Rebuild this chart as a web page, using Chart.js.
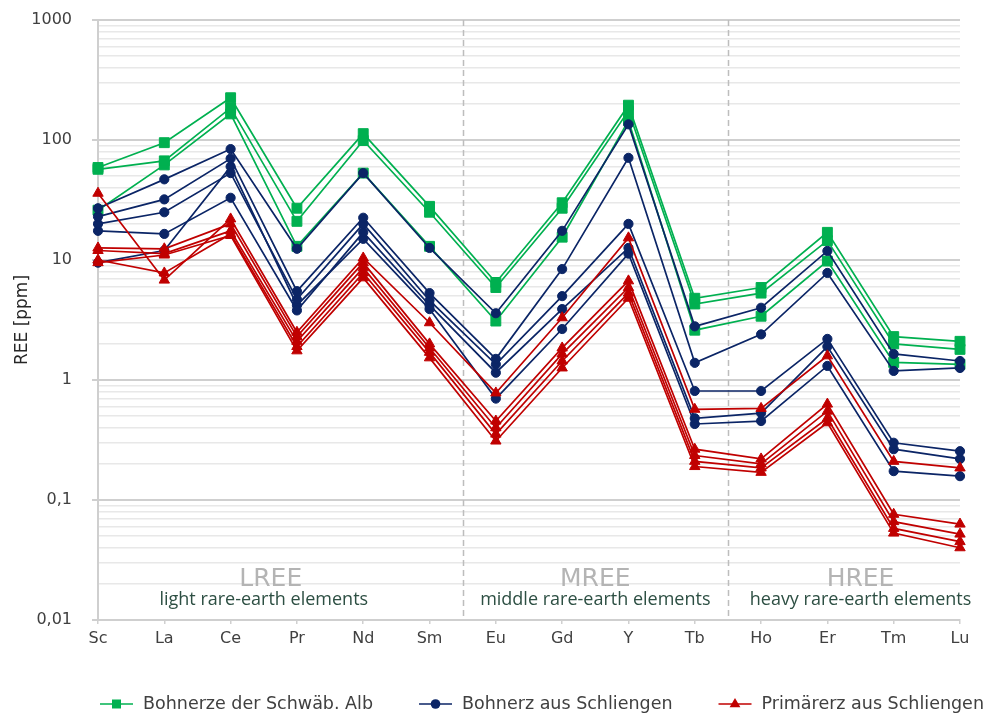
<!DOCTYPE html>
<html lang="de">
<head>
<meta charset="utf-8">
<title>Seltene Erden – REE-Gehalte</title>
<script src="https://cdn.jsdelivr.net/npm/chart.js@4.4.1/dist/chart.umd.min.js"></script>
<style>
  html, body { margin: 0; padding: 0; background: #ffffff; }
  canvas { display: block; }
</style>
</head>
<body>
<canvas id="ree" width="987" height="716"></canvas>
<script>
// Elements on the x axis
const elements = ['Sc', 'La', 'Ce', 'Pr', 'Nd', 'Sm', 'Eu', 'Gd', 'Y', 'Tb', 'Ho', 'Er', 'Tm', 'Lu'];

// Bohnerze der Schwäbischen Alb (ppm)
const alb1 = [59, 95, 225, 27, 113, 28, 6.5, 30, 195, 4.8, 5.9, 17, 2.3, 2.1];
const alb2 = [57, 67, 185, 21, 99, 25, 5.9, 27, 175, 4.3, 5.3, 14.5, 2.0, 1.8];
const alb3 = [26, 62, 165, 13, 53, 13, 3.1, 15.5, 145, 2.6, 3.4, 9.8, 1.4, 1.35];

// Bohnerz aus Schliengen (ppm)
const schl1 = [27, 47, 84, 12.4, 53, 12.6, 3.6, 17.5, 135, 2.8, 4.0, 11.9, 1.65, 1.44];
const schl2 = [23, 32, 70, 5.5, 22.5, 5.3, 1.5, 8.4, 71, 1.39, 2.4, 7.8, 1.19, 1.26];
const schl3 = [20, 25, 53, 4.7, 20, 4.6, 1.35, 5.0, 20, 0.81, 0.81, 2.2, 0.30, 0.255];
const schl4 = [17.5, 16.5, 33, 3.8, 17, 4.2, 1.15, 3.9, 12.6, 0.48, 0.53, 1.9, 0.265, 0.22];
const schl5 = [9.5, 12, 60, 4.2, 15, 3.9, 0.7, 2.66, 11.3, 0.43, 0.455, 1.31, 0.174, 0.158];

// Primärerz aus Schliengen (ppm)
const prim1 = [36, 6.8, 22, 2.5, 10.4, 3.0, 0.78, 3.3, 15.3, 0.57, 0.58, 1.59, 0.21, 0.185];
const prim2 = [12.6, 12.4, 20, 2.3, 9.5, 2.0, 0.455, 1.85, 6.7, 0.265, 0.22, 0.63, 0.076, 0.063];
const prim3 = [12, 11.3, 17.5, 2.1, 8.6, 1.85, 0.40, 1.65, 5.9, 0.235, 0.20, 0.55, 0.066, 0.052];
const prim4 = [10, 7.8, 16.5, 1.9, 7.8, 1.7, 0.354, 1.44, 5.3, 0.21, 0.185, 0.48, 0.058, 0.045];
const prim5 = [9.5, 11, 16, 1.75, 7.1, 1.53, 0.31, 1.26, 4.8, 0.19, 0.17, 0.44, 0.053, 0.040];

// Sample groups
const groupNames = ['Bohnerze der Schwäb. Alb', 'Bohnerz aus Schliengen', 'Primärerz aus Schliengen'];
const groupSeries = [[alb1, alb2, alb3], [schl1, schl2, schl3, schl4, schl5], [prim1, prim2, prim3, prim4, prim5]];
const groupColors = ['#00b050', '#0b2566', '#c00000'];
const groupMarkers = ['rect', 'circle', 'triangle'];
const groupRadius = [7, 4.6, 6];

// Logarithmic axis: decades and their labels
const decades = [0.01, 0.1, 1, 10, 100, 1000];
const yTickLabels = ['0,01', '0,1', '1', '10', '100', '1000'];

// Element groups shown along the bottom of the plot
const regionNames = ['LREE', 'MREE', 'HREE'];
const regionTexts = ['light rare-earth elements', 'middle rare-earth elements', 'heavy rare-earth elements'];
const regionFirst = ['Sc', 'Eu', 'Ho'];
const regionLast = ['Sm', 'Tb', 'Lu'];

const FONT = '"DejaVu Sans", "Liberation Sans", Arial, sans-serif';

function decadeIndex(v) {
  const l = Math.log10(v);
  return Math.abs(l - Math.round(l)) < 1e-6 ? decades.findIndex(d => Math.abs(Math.log10(d) - l) < 1e-6) : -1;
}

const datasets = [];
groupSeries.forEach((list, g) => {
  list.forEach(values => {
    datasets.push({
      label: groupNames[g],
      data: values,
      borderColor: groupColors[g],
      backgroundColor: groupColors[g],
      pointBackgroundColor: groupColors[g],
      pointBorderColor: groupColors[g],
      pointStyle: groupMarkers[g],
      pointRadius: groupRadius[g],
      pointBorderWidth: 1,
      borderWidth: 1.7,
      tension: 0,
      order: groupSeries.length - g
    });
  });
});

// Dashed dividers and group captions inside the plot
const regionPlugin = {
  id: 'reeRegions',
  beforeDatasetsDraw(chart) {
    const { ctx, chartArea: a, scales: { x } } = chart;
    ctx.save();
    ctx.strokeStyle = '#bdbdbd';
    ctx.lineWidth = 1.5;
    ctx.setLineDash([6, 4]);
    for (let r = 1; r < regionFirst.length; r++) {
      const i = elements.indexOf(regionFirst[r]);
      const px = Math.round((x.getPixelForValue(i - 1) + x.getPixelForValue(i)) / 2) + 0.5;
      ctx.beginPath();
      ctx.moveTo(px, a.top);
      ctx.lineTo(px, a.bottom);
      ctx.stroke();
    }
    ctx.setLineDash([]);
    ctx.textAlign = 'center';
    ctx.textBaseline = 'middle';
    regionNames.forEach((name, r) => {
      const cx = (x.getPixelForValue(elements.indexOf(regionFirst[r])) +
                  x.getPixelForValue(elements.indexOf(regionLast[r]))) / 2;
      ctx.font = '25px ' + FONT;
      ctx.fillStyle = '#b4b4b4';
      ctx.fillText(name, cx + (r === 0 ? 7 : 0), a.bottom - 41);
      ctx.font = '18px "Open Sans", ' + FONT;
      ctx.fillStyle = '#2d4f43';
      ctx.fillText(regionTexts[r], cx, a.bottom - 20);
    });
    ctx.restore();
  }
};

// One legend entry per sample group: line with marker, then the name
const legendPlugin = {
  id: 'groupLegend',
  afterDraw(chart) {
    const ctx = chart.ctx;
    const a = chart.chartArea;
    ctx.save();
    ctx.font = '17.5px ' + FONT;
    const markerW = 33, gapText = 10, gapItem = 46;
    const widths = groupNames.map(n => ctx.measureText(n).width);
    let x = a.left + 2;
    const y = chart.height - 12;
    groupNames.forEach((name, g) => {
      ctx.strokeStyle = groupColors[g];
      ctx.fillStyle = groupColors[g];
      ctx.lineWidth = 1.7;
      ctx.beginPath();
      ctx.moveTo(x, y);
      ctx.lineTo(x + markerW, y);
      ctx.stroke();
      const cx = x + markerW / 2;
      ctx.beginPath();
      if (groupMarkers[g] === 'rect') {
        ctx.rect(cx - 4.5, y - 4.5, 9, 9);
      } else if (groupMarkers[g] === 'circle') {
        ctx.arc(cx, y, 4.8, 0, Math.PI * 2);
      } else {
        ctx.moveTo(cx, y - 6);
        ctx.lineTo(cx + 5.4, y + 3.2);
        ctx.lineTo(cx - 5.4, y + 3.2);
        ctx.closePath();
      }
      ctx.fill();
      ctx.fillStyle = '#404040';
      ctx.textAlign = 'left';
      ctx.textBaseline = 'middle';
      ctx.fillText(name, x + markerW + gapText, y);
      x += markerW + gapText + widths[g] + gapItem;
    });
    ctx.restore();
  }
};

new Chart(document.getElementById('ree'), {
  type: 'line',
  data: { labels: elements, datasets },
  options: {
    responsive: false,
    animation: false,
    devicePixelRatio: 1,
    layout: { padding: { top: 20, right: 27, bottom: 0, left: 0 } },
    plugins: {
      legend: { display: false },
      tooltip: { enabled: false }
    },
    scales: {
      x: {
        type: 'category',
        offset: false,
        grid: { drawOnChartArea: false, drawTicks: true, tickLength: 4, color: '#d0d0d0', lineWidth: 1.5 },
        border: { display: true, color: '#cfcfcf', width: 2 },
        ticks: { color: '#404040', font: { family: FONT, size: 16 }, padding: 5, autoSkip: false, maxRotation: 0 },
        afterFit(scale) { scale.height = 96; }
      },
      y: {
        type: 'logarithmic',
        min: 0.01,
        max: 1000,
        afterBuildTicks(scale) {
          const ticks = [];
          decades.forEach((d, i) => {
            if (i === decades.length - 1) { ticks.push({ value: d, major: true }); return; }
            for (let m = 1; m <= 9; m++) ticks.push({ value: m * d, major: m === 1 });
          });
          scale.ticks = ticks;
        },
        afterFit(scale) {
          scale.width = 98;
          // the label gap should not push the plot area down
          scale.paddingTop = 0;
          scale.paddingBottom = 0;
        },
        grid: {
          color: c => decadeIndex(c.tick.value) >= 0 ? '#cfcfcf' : '#e8e8e8',
          lineWidth: c => decadeIndex(c.tick.value) >= 0 ? 2 : 1.5,
          tickColor: c => decadeIndex(c.tick.value) >= 0 ? '#cfcfcf' : 'rgba(0,0,0,0)',
          tickLength: 6
        },
        border: { display: true, color: '#cfcfcf', width: 2 },
        ticks: {
          autoSkip: false,
          color: '#404040',
          font: { family: FONT, size: 16 },
          padding: 20,
          callback(value) {
            const i = decadeIndex(value);
            return i >= 0 ? yTickLabels[i] : '';
          }
        },
        title: {
          display: true,
          text: 'REE [ppm]',
          color: '#262626',
          font: { family: FONT, size: 17 },
          padding: { top: 12, bottom: 0 }
        }
      }
    }
  },
  plugins: [regionPlugin, legendPlugin]
});
</script>
</body>
</html>
